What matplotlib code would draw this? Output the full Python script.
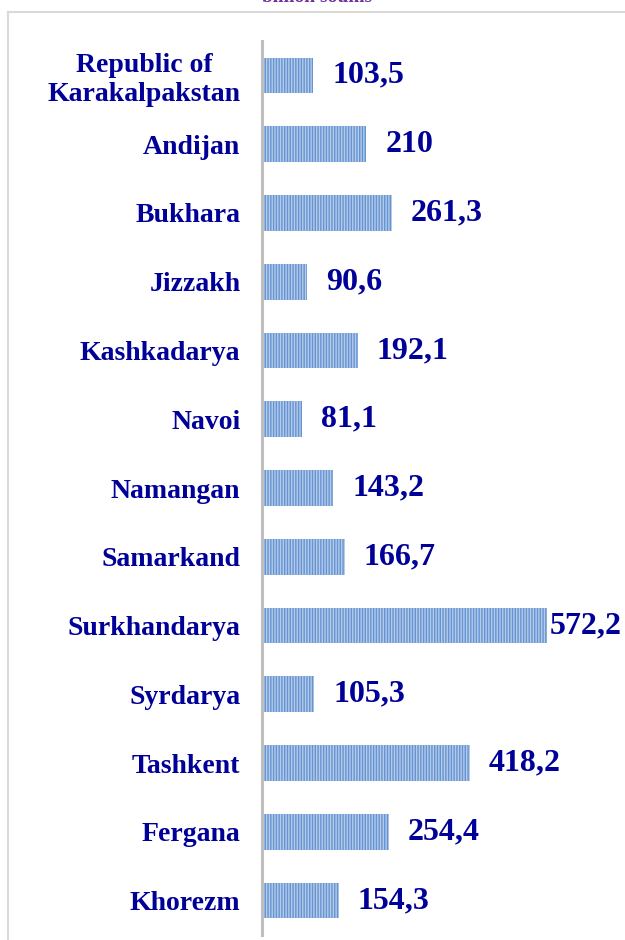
import matplotlib
matplotlib.use('Agg')
import matplotlib.pyplot as plt
from matplotlib.lines import Line2D

regions = ['Republic of\nKarakalpakstan', 'Andijan', 'Bukhara', 'Jizzakh',
           'Kashkadarya', 'Navoi', 'Namangan', 'Samarkand', 'Surkhandarya',
           'Syrdarya', 'Tashkent', 'Fergana', 'Khorezm']
values = [103.5, 210, 261.3, 90.6, 192.1, 81.1, 143.2, 166.7, 572.2,
          105.3, 418.2, 254.4, 154.3]
value_labels = ['103,5', '210', '261,3', '90,6', '192,1', '81,1', '143,2',
                '166,7', '572,2', '105,3', '418,2', '254,4', '154,3']
unit_label = 'billion soums'

W, H = 625, 940
text_col = '#000099'
plt.rcParams['font.family'] = ['Liberation Serif', 'DejaVu Serif']
plt.rcParams['hatch.linewidth'] = 1.0

fig = plt.figure(figsize=(W / 100, H / 100), dpi=100)
fig.patch.set_facecolor('white')

# outer frame (left + top lines of the chart area)
fig.add_artist(Line2D([8 / W, 8 / W], [0, 1 - 12 / H], color='#d9d9d9', lw=1.5,
                      transform=fig.transFigure))
fig.add_artist(Line2D([8 / W, 1], [1 - 12 / H, 1 - 12 / H], color='#d9d9d9', lw=1.5,
                      transform=fig.transFigure))

# unit title, cut off by the top edge like in the source
fig.text(317 / W, 1 - 2 / H, unit_label, ha='center', va='baseline',
         color='#7030a0', fontsize=14, fontweight='bold')

ax = fig.add_axes([262 / W, 5 / H, 1 - 262 / W, (935 - 41) / H])
ypos = list(range(len(regions)))
ax.barh(ypos, values, height=0.52, color='#b6cbe8', edgecolor='#6494d4',
        hatch='||||||', linewidth=0)
ax.set_xlim(0, 730)
ax.set_ylim(len(regions) - 0.5, -0.5)

for s in ['top', 'right', 'bottom']:
    ax.spines[s].set_visible(False)
ax.spines['left'].set_color('#bfbfbf')
ax.spines['left'].set_linewidth(2.2)
ax.set_xticks([])
ax.set_yticks(ypos)
ax.set_yticklabels(regions, fontsize=20, fontweight='bold', color=text_col,
                   multialignment='center')
ax.tick_params(axis='y', length=0, pad=15.5)

vmax = max(values)
for y, v, lab in zip(ypos, values, value_labels):
    off = 3 if v == vmax else 19
    ax.annotate(lab, (v, y), xytext=(off * 0.72, 0), textcoords='offset points',
                ha='left', va='center', fontsize=23, fontweight='bold',
                color=text_col)

fig.savefig('out.png', dpi=100, facecolor='white')
